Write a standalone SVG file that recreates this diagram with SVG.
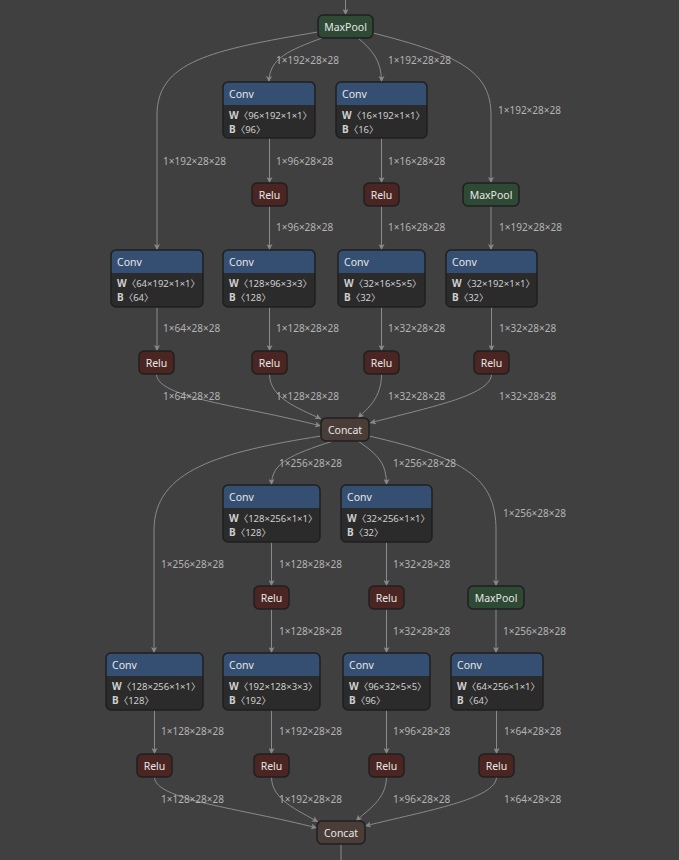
<svg xmlns="http://www.w3.org/2000/svg" width="679" height="860" viewBox="0 0 679 860">
<defs>
<marker id="ah" markerWidth="7" markerHeight="6" refX="6" refY="3" orient="auto" markerUnits="userSpaceOnUse">
<path d="M0,0 L6,3 L0,6 L1.5,3 z" fill="#8a8a8a"/>
</marker>
<style>
.e{fill:none;stroke:#8a8a8a;stroke-width:1;marker-end:url(#ah)}
.el{fill:none;stroke:#8a8a8a;stroke-width:1}
.lb{font-family:"Noto Sans","Open Sans",sans-serif;font-size:10px;fill:#b4b4b4}
.nt{font-family:"Noto Sans","Open Sans",sans-serif;font-size:10.5px;fill:#e6e6e6}
.at{font-family:"Noto Sans","Noto Sans CJK SC",sans-serif;font-size:9.5px;fill:#cfcfcf}
.ab{font-weight:bold;font-size:10px}
.hd{fill:#354f72}
.bd{fill:#2b2b2b}
.bx{fill:none;stroke:#1f1f1f;stroke-width:1.5}
.relu{fill:#4a2521;stroke:#1f1f1f;stroke-width:1.5}
.pool{fill:#2f4a34;stroke:#1f1f1f;stroke-width:1.5}
.cat{fill:#4a3d38;stroke:#1f1f1f;stroke-width:1.5}
</style>
</defs>
<rect width="679" height="860" fill="#404040"/>

<g id="connectors">
<path class="e" d="M345.5,0 L345.5,15"/>
<path class="e" d="M322,38 C290,50 269,58 269,82"/>
<path class="e" d="M358,38 C372,50 381.5,60 381.5,82"/>
<path class="e" d="M318,32 C210,50 157,62 157,115 L157,250"/>
<path class="e" d="M373,33 C460,55 491,72 491,115 L491,183"/>
<path class="e" d="M269.5,138 L269.5,183"/>
<path class="e" d="M381.5,138 L381.5,183"/>
<path class="e" d="M269.5,206 L269.5,250"/>
<path class="e" d="M381.5,206 L381.5,250"/>
<path class="e" d="M491,206 L491,250"/>
<path class="e" d="M157,307 L157,351"/>
<path class="e" d="M269.5,307 L269.5,351"/>
<path class="e" d="M381.5,307 L381.5,351"/>
<path class="e" d="M491.5,307 L491.5,351"/>
<path class="e" d="M156.5,374 C156.5,398 240,405 321,426"/>
<path class="e" d="M269.5,374 C269.5,398 298,408 321,419"/>
<path class="e" d="M381.5,374 C381.5,398 368,408 358,418"/>
<path class="e" d="M491.5,374 C491.5,396 425,408 370,423"/>
<path class="e" d="M321,436 C220,452 154,470 154,530 L154,653"/>
<path class="e" d="M333,441 C290,455 271.5,463 271.5,485"/>
<path class="e" d="M358,441 C378,455 386.5,463 386.5,485"/>
<path class="e" d="M369,436 C465,458 496,478 496,530 L496,586"/>
<path class="e" d="M271.5,542 L271.5,586"/>
<path class="e" d="M386.5,542 L386.5,586"/>
<path class="e" d="M271.5,609 L271.5,653"/>
<path class="e" d="M386.5,609 L386.5,653"/>
<path class="e" d="M496,609 L496,653"/>
<path class="e" d="M154.5,710 L154.5,754"/>
<path class="e" d="M271.5,710 L271.5,754"/>
<path class="e" d="M386.5,710 L386.5,754"/>
<path class="e" d="M496.5,710 L496.5,754"/>
<path class="e" d="M154.5,777 C154.5,800 240,808 317,828"/>
<path class="e" d="M271.5,777 C271.5,800 298,810 318,822"/>
<path class="e" d="M386.5,777 C386.5,800 366,811 356,821"/>
<path class="e" d="M496.5,777 C496.5,799 425,811 365,826"/>
<path class="el" d="M341,844 L341,860"/>
</g>

<g id="edge-labels">
<text class="lb" x="276" y="63.5">1×192×28×28</text>
<text class="lb" x="388" y="63.5">1×192×28×28</text>
<text class="lb" x="498" y="113.5">1×192×28×28</text>
<text class="lb" x="163" y="164.5">1×192×28×28</text>
<text class="lb" x="276" y="164.5">1×96×28×28</text>
<text class="lb" x="388" y="164.5">1×16×28×28</text>
<text class="lb" x="276" y="230.5">1×96×28×28</text>
<text class="lb" x="388" y="230.5">1×16×28×28</text>
<text class="lb" x="499" y="230.5">1×192×28×28</text>
<text class="lb" x="163" y="331.5">1×64×28×28</text>
<text class="lb" x="276" y="331.5">1×128×28×28</text>
<text class="lb" x="388" y="331.5">1×32×28×28</text>
<text class="lb" x="499" y="331.5">1×32×28×28</text>
<text class="lb" x="163" y="399.5">1×64×28×28</text>
<text class="lb" x="276" y="399.5">1×128×28×28</text>
<text class="lb" x="388" y="399.5">1×32×28×28</text>
<text class="lb" x="499" y="399.5">1×32×28×28</text>
<text class="lb" x="279" y="466.5">1×256×28×28</text>
<text class="lb" x="393" y="466.5">1×256×28×28</text>
<text class="lb" x="503" y="516.5">1×256×28×28</text>
<text class="lb" x="161" y="567.5">1×256×28×28</text>
<text class="lb" x="279" y="567.5">1×128×28×28</text>
<text class="lb" x="393" y="567.5">1×32×28×28</text>
<text class="lb" x="279" y="634.5">1×128×28×28</text>
<text class="lb" x="393" y="634.5">1×32×28×28</text>
<text class="lb" x="503" y="634.5">1×256×28×28</text>
<text class="lb" x="161" y="734.5">1×128×28×28</text>
<text class="lb" x="279" y="734.5">1×192×28×28</text>
<text class="lb" x="393" y="734.5">1×96×28×28</text>
<text class="lb" x="504" y="734.5">1×64×28×28</text>
<text class="lb" x="161" y="802.5">1×128×28×28</text>
<text class="lb" x="279" y="802.5">1×192×28×28</text>
<text class="lb" x="393" y="802.5">1×96×28×28</text>
<text class="lb" x="504" y="802.5">1×64×28×28</text>
</g>

<g id="maxpool1"><rect class="pool" x="318" y="15" width="55" height="23" rx="5"/><text class="nt" x="345.5" y="30.5" text-anchor="middle">MaxPool</text></g>

<g id="conv1">
<path class="hd" d="M223,105 V87 a5,5 0 0 1 5,-5 H310 a5,5 0 0 1 5,5 V105 z"/>
<path class="bd" d="M223,105 H315 V133 a5,5 0 0 1 -5,5 H228 a5,5 0 0 1 -5,-5 z"/>
<rect class="bx" x="223" y="82" width="92" height="56" rx="5"/>
<text class="nt" x="229" y="98">Conv</text>
<text class="at" x="229" y="119"><tspan class="ab">W</tspan>〈96×192×1×1〉</text>
<text class="at" x="229" y="133"><tspan class="ab">B</tspan>〈96〉</text>
</g>
<g id="conv2">
<path class="hd" d="M336,105 V87 a5,5 0 0 1 5,-5 H422 a5,5 0 0 1 5,5 V105 z"/>
<path class="bd" d="M336,105 H427 V133 a5,5 0 0 1 -5,5 H341 a5,5 0 0 1 -5,-5 z"/>
<rect class="bx" x="336" y="82" width="91" height="56" rx="5"/>
<text class="nt" x="342" y="98">Conv</text>
<text class="at" x="342" y="119"><tspan class="ab">W</tspan>〈16×192×1×1〉</text>
<text class="at" x="342" y="133"><tspan class="ab">B</tspan>〈16〉</text>
</g>

<g id="relu1"><rect class="relu" x="252" y="183" width="35" height="23" rx="5"/><text class="nt" x="269.5" y="198.5" text-anchor="middle">Relu</text></g>
<g id="relu2"><rect class="relu" x="364" y="183" width="35" height="23" rx="5"/><text class="nt" x="381.5" y="198.5" text-anchor="middle">Relu</text></g>
<g id="maxpool2"><rect class="pool" x="463" y="183" width="56" height="23" rx="5"/><text class="nt" x="491" y="198.5" text-anchor="middle">MaxPool</text></g>

<g id="conv3">
<path class="hd" d="M111,273 V255 a5,5 0 0 1 5,-5 H198 a5,5 0 0 1 5,5 V273 z"/>
<path class="bd" d="M111,273 H203 V302 a5,5 0 0 1 -5,5 H116 a5,5 0 0 1 -5,-5 z"/>
<rect class="bx" x="111" y="250" width="92" height="57" rx="5"/>
<text class="nt" x="117" y="266">Conv</text>
<text class="at" x="117" y="287"><tspan class="ab">W</tspan>〈64×192×1×1〉</text>
<text class="at" x="117" y="301"><tspan class="ab">B</tspan>〈64〉</text>
</g>
<g id="conv4">
<path class="hd" d="M223,273 V255 a5,5 0 0 1 5,-5 H310 a5,5 0 0 1 5,5 V273 z"/>
<path class="bd" d="M223,273 H315 V302 a5,5 0 0 1 -5,5 H228 a5,5 0 0 1 -5,-5 z"/>
<rect class="bx" x="223" y="250" width="92" height="57" rx="5"/>
<text class="nt" x="229" y="266">Conv</text>
<text class="at" x="229" y="287"><tspan class="ab">W</tspan>〈128×96×3×3〉</text>
<text class="at" x="229" y="301"><tspan class="ab">B</tspan>〈128〉</text>
</g>
<g id="conv5">
<path class="hd" d="M338,273 V255 a5,5 0 0 1 5,-5 H420 a5,5 0 0 1 5,5 V273 z"/>
<path class="bd" d="M338,273 H425 V302 a5,5 0 0 1 -5,5 H343 a5,5 0 0 1 -5,-5 z"/>
<rect class="bx" x="338" y="250" width="87" height="57" rx="5"/>
<text class="nt" x="344" y="266">Conv</text>
<text class="at" x="344" y="287"><tspan class="ab">W</tspan>〈32×16×5×5〉</text>
<text class="at" x="344" y="301"><tspan class="ab">B</tspan>〈32〉</text>
</g>
<g id="conv6">
<path class="hd" d="M446,273 V255 a5,5 0 0 1 5,-5 H532 a5,5 0 0 1 5,5 V273 z"/>
<path class="bd" d="M446,273 H537 V302 a5,5 0 0 1 -5,5 H451 a5,5 0 0 1 -5,-5 z"/>
<rect class="bx" x="446" y="250" width="91" height="57" rx="5"/>
<text class="nt" x="452" y="266">Conv</text>
<text class="at" x="452" y="287"><tspan class="ab">W</tspan>〈32×192×1×1〉</text>
<text class="at" x="452" y="301"><tspan class="ab">B</tspan>〈32〉</text>
</g>

<g id="relu3"><rect class="relu" x="139" y="351" width="35" height="23" rx="5"/><text class="nt" x="156.5" y="366.5" text-anchor="middle">Relu</text></g>
<g id="relu4"><rect class="relu" x="252" y="351" width="35" height="23" rx="5"/><text class="nt" x="269.5" y="366.5" text-anchor="middle">Relu</text></g>
<g id="relu5"><rect class="relu" x="364" y="351" width="35" height="23" rx="5"/><text class="nt" x="381.5" y="366.5" text-anchor="middle">Relu</text></g>
<g id="relu6"><rect class="relu" x="474" y="351" width="35" height="23" rx="5"/><text class="nt" x="491.5" y="366.5" text-anchor="middle">Relu</text></g>

<g id="concat1"><rect class="cat" x="321" y="418" width="48" height="23" rx="5"/><text class="nt" x="345" y="433.5" text-anchor="middle">Concat</text></g>

<g id="conv7">
<path class="hd" d="M223,508 V490 a5,5 0 0 1 5,-5 H315 a5,5 0 0 1 5,5 V508 z"/>
<path class="bd" d="M223,508 H320 V537 a5,5 0 0 1 -5,5 H228 a5,5 0 0 1 -5,-5 z"/>
<rect class="bx" x="223" y="485" width="97" height="57" rx="5"/>
<text class="nt" x="229" y="501">Conv</text>
<text class="at" x="229" y="522"><tspan class="ab">W</tspan>〈128×256×1×1〉</text>
<text class="at" x="229" y="536"><tspan class="ab">B</tspan>〈128〉</text>
</g>
<g id="conv8">
<path class="hd" d="M341,508 V490 a5,5 0 0 1 5,-5 H427 a5,5 0 0 1 5,5 V508 z"/>
<path class="bd" d="M341,508 H432 V537 a5,5 0 0 1 -5,5 H346 a5,5 0 0 1 -5,-5 z"/>
<rect class="bx" x="341" y="485" width="91" height="57" rx="5"/>
<text class="nt" x="347" y="501">Conv</text>
<text class="at" x="347" y="522"><tspan class="ab">W</tspan>〈32×256×1×1〉</text>
<text class="at" x="347" y="536"><tspan class="ab">B</tspan>〈32〉</text>
</g>

<g id="relu7"><rect class="relu" x="254" y="586" width="35" height="23" rx="5"/><text class="nt" x="271.5" y="601.5" text-anchor="middle">Relu</text></g>
<g id="relu8"><rect class="relu" x="369" y="586" width="35" height="23" rx="5"/><text class="nt" x="386.5" y="601.5" text-anchor="middle">Relu</text></g>
<g id="maxpool3"><rect class="pool" x="468" y="586" width="56" height="23" rx="5"/><text class="nt" x="496" y="601.5" text-anchor="middle">MaxPool</text></g>

<g id="conv9">
<path class="hd" d="M106,676 V658 a5,5 0 0 1 5,-5 H198 a5,5 0 0 1 5,5 V676 z"/>
<path class="bd" d="M106,676 H203 V705 a5,5 0 0 1 -5,5 H111 a5,5 0 0 1 -5,-5 z"/>
<rect class="bx" x="106" y="653" width="97" height="57" rx="5"/>
<text class="nt" x="112" y="669">Conv</text>
<text class="at" x="112" y="690"><tspan class="ab">W</tspan>〈128×256×1×1〉</text>
<text class="at" x="112" y="704"><tspan class="ab">B</tspan>〈128〉</text>
</g>
<g id="conv10">
<path class="hd" d="M223,676 V658 a5,5 0 0 1 5,-5 H315 a5,5 0 0 1 5,5 V676 z"/>
<path class="bd" d="M223,676 H320 V705 a5,5 0 0 1 -5,5 H228 a5,5 0 0 1 -5,-5 z"/>
<rect class="bx" x="223" y="653" width="97" height="57" rx="5"/>
<text class="nt" x="229" y="669">Conv</text>
<text class="at" x="229" y="690"><tspan class="ab">W</tspan>〈192×128×3×3〉</text>
<text class="at" x="229" y="704"><tspan class="ab">B</tspan>〈192〉</text>
</g>
<g id="conv11">
<path class="hd" d="M343,676 V658 a5,5 0 0 1 5,-5 H425 a5,5 0 0 1 5,5 V676 z"/>
<path class="bd" d="M343,676 H430 V705 a5,5 0 0 1 -5,5 H348 a5,5 0 0 1 -5,-5 z"/>
<rect class="bx" x="343" y="653" width="87" height="57" rx="5"/>
<text class="nt" x="349" y="669">Conv</text>
<text class="at" x="349" y="690"><tspan class="ab">W</tspan>〈96×32×5×5〉</text>
<text class="at" x="349" y="704"><tspan class="ab">B</tspan>〈96〉</text>
</g>
<g id="conv12">
<path class="hd" d="M451,676 V658 a5,5 0 0 1 5,-5 H538 a5,5 0 0 1 5,5 V676 z"/>
<path class="bd" d="M451,676 H543 V705 a5,5 0 0 1 -5,5 H456 a5,5 0 0 1 -5,-5 z"/>
<rect class="bx" x="451" y="653" width="92" height="57" rx="5"/>
<text class="nt" x="457" y="669">Conv</text>
<text class="at" x="457" y="690"><tspan class="ab">W</tspan>〈64×256×1×1〉</text>
<text class="at" x="457" y="704"><tspan class="ab">B</tspan>〈64〉</text>
</g>

<g id="relu9"><rect class="relu" x="137" y="754" width="35" height="23" rx="5"/><text class="nt" x="154.5" y="769.5" text-anchor="middle">Relu</text></g>
<g id="relu10"><rect class="relu" x="254" y="754" width="35" height="23" rx="5"/><text class="nt" x="271.5" y="769.5" text-anchor="middle">Relu</text></g>
<g id="relu11"><rect class="relu" x="369" y="754" width="35" height="23" rx="5"/><text class="nt" x="386.5" y="769.5" text-anchor="middle">Relu</text></g>
<g id="relu12"><rect class="relu" x="479" y="754" width="35" height="23" rx="5"/><text class="nt" x="496.5" y="769.5" text-anchor="middle">Relu</text></g>

<g id="concat2"><rect class="cat" x="317" y="821" width="48" height="23" rx="5"/><text class="nt" x="341" y="836.5" text-anchor="middle">Concat</text></g>
</svg>
